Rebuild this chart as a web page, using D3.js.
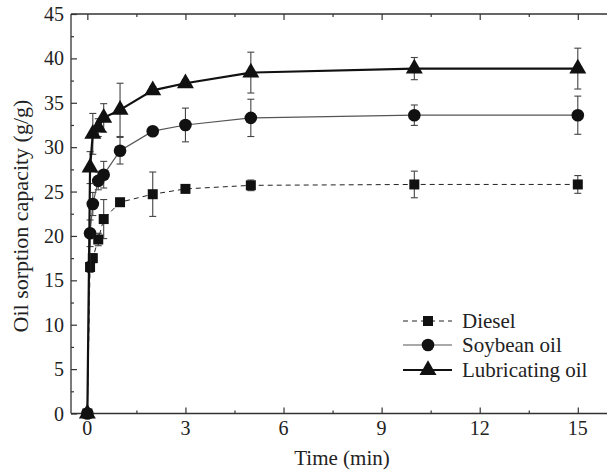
<!DOCTYPE html>
<html>
<head>
<meta charset="utf-8">
<script src="https://cdn.jsdelivr.net/npm/d3@7"></script>
<style>
  body { margin: 0; background: #fff; }
  svg text { font-family: "Liberation Serif", "Times New Roman", serif; fill: #222; }
</style>
</head>
<body>
<div id="chart"></div>
<script>
// time points (min)
var times = [0, 0.083, 0.167, 0.333, 0.5, 1, 2, 3, 5, 10, 15];

var diesel     = [0, 16.5, 17.5, 19.6, 21.9, 23.8, 24.7, 25.3, 25.7, 25.8, 25.8];
var dieselErr  = [0, 0.6, 0.5, 0.7, 2.2, 0.3, 2.5, 0.3, 0.6, 1.5, 1.0];
var soybean    = [0, 20.3, 23.6, 26.2, 26.9, 29.6, 31.8, 32.5, 33.3, 33.6, 33.6];
var soybeanErr = [0, 1.5, 1.3, 1.0, 1.5, 1.5, 0.3, 1.9, 2.1, 1.15, 2.15];
var lube       = [0, 27.7, 31.5, 32.2, 33.3, 34.2, 36.4, 37.2, 38.4, 38.85, 38.85];
var lubeErr    = [0, 1.8, 2.3, 1.0, 1.6, 3.0, 0.4, 0.4, 2.3, 1.25, 2.3];

var xTicks = [0, 3, 6, 9, 12, 15];
var yTicks = [0, 5, 10, 15, 20, 25, 30, 35, 40, 45];

var width = 607, height = 471;

var svg = d3.select("#chart").append("svg")
    .attr("width", width)
    .attr("height", height);

var x = d3.scaleLinear().domain([-0.5, 16]).range([71, 610.5]);
var y = d3.scaleLinear().domain([0, 45]).range([413.5, 14]);

// frame lines (left, top, bottom) - right side is cropped
var frame = svg.append("g").attr("stroke", "#333").attr("stroke-width", 1.3);
frame.append("line").attr("x1", 71).attr("x2", 71).attr("y1", y(45)).attr("y2", y(0));
frame.append("line").attr("x1", 71).attr("x2", width).attr("y1", y(45)).attr("y2", y(45));
frame.append("line").attr("x1", 71).attr("x2", width).attr("y1", y(0)).attr("y2", y(0));

// ticks, all pointing inwards
var xMinor = d3.range(1.5, 16, 3);
var yMinor = d3.range(2.5, 45, 5);

function noDomain(g) { g.select(".domain").remove(); }

svg.append("g").attr("transform", "translate(0," + y(0) + ")")
    .call(d3.axisTop(x).tickValues(xTicks).tickSize(6).tickFormat("")).call(noDomain);
svg.append("g").attr("transform", "translate(0," + y(0) + ")")
    .call(d3.axisTop(x).tickValues(xMinor).tickSize(3).tickFormat("")).call(noDomain);
svg.append("g").attr("transform", "translate(0," + y(45) + ")")
    .call(d3.axisBottom(x).tickValues(xTicks).tickSize(6).tickFormat("")).call(noDomain);
svg.append("g").attr("transform", "translate(0," + y(45) + ")")
    .call(d3.axisBottom(x).tickValues(xMinor).tickSize(3).tickFormat("")).call(noDomain);
svg.append("g").attr("transform", "translate(71,0)")
    .call(d3.axisRight(y).tickValues(yTicks).tickSize(6).tickFormat("")).call(noDomain);
svg.append("g").attr("transform", "translate(71,0)")
    .call(d3.axisRight(y).tickValues(yMinor).tickSize(3).tickFormat("")).call(noDomain);
svg.selectAll(".tick line").attr("stroke", "#333").attr("stroke-width", 1.2);

// tick labels
svg.selectAll(".xlab").data(xTicks).enter().append("text")
    .attr("x", function(d) { return x(d); })
    .attr("y", 435)
    .attr("text-anchor", "middle")
    .style("font-size", "20px")
    .text(function(d) { return d; });
svg.selectAll(".ylab").data(yTicks).enter().append("text")
    .attr("x", 64)
    .attr("y", function(d) { return y(d) + 7; })
    .attr("text-anchor", "end")
    .style("font-size", "20px")
    .text(function(d) { return d; });

// axis titles
svg.append("text")
    .attr("x", 342).attr("y", 465)
    .attr("text-anchor", "middle")
    .style("font-size", "21px")
    .text("Time (min)");
svg.append("text")
    .attr("transform", "translate(28,216) rotate(-90)")
    .attr("text-anchor", "middle")
    .style("font-size", "22px")
    .text("Oil sorption capacity (g/g)");

var series = [
  { name: "Diesel", vals: diesel, err: dieselErr, shape: d3.symbolSquare, size: 100, stroke: "#222", width: 1, dash: "5,4" },
  { name: "Soybean oil", vals: soybean, err: soybeanErr, shape: d3.symbolCircle, size: 125, stroke: "#555", width: 1.2, dash: null },
  { name: "Lubricating oil", vals: lube, err: lubeErr, shape: d3.symbolTriangle, size: 125, stroke: "#111", width: 2.2, dash: null }
];

var line = d3.line()
    .x(function(d) { return x(d[0]); })
    .y(function(d) { return y(d[1]); });

series.forEach(function(s) {
  var pts = times.map(function(t, i) { return [t, s.vals[i], s.err[i]]; });

  // error bars
  var eb = svg.append("g").attr("stroke", "#444").attr("stroke-width", 1.1);
  pts.forEach(function(p) {
    if (p[2] <= 0) return;
    var cx = x(p[0]), top = y(p[1] + p[2]), bot = y(p[1] - p[2]);
    eb.append("line").attr("x1", cx).attr("x2", cx).attr("y1", top).attr("y2", bot);
    eb.append("line").attr("x1", cx - 3.5).attr("x2", cx + 3.5).attr("y1", top).attr("y2", top);
    eb.append("line").attr("x1", cx - 3.5).attr("x2", cx + 3.5).attr("y1", bot).attr("y2", bot);
  });

  svg.append("path")
      .datum(pts)
      .attr("d", line)
      .attr("fill", "none")
      .attr("stroke", s.stroke)
      .attr("stroke-width", s.width)
      .attr("stroke-dasharray", s.dash);

  svg.selectAll(null).data(pts).enter().append("path")
      .attr("d", d3.symbol().type(s.shape).size(s.size))
      .attr("transform", function(d) { return "translate(" + x(d[0]) + "," + y(d[1]) + ")"; })
      .attr("fill", "#111");
});

// legend
var legY = [321, 345, 370];
series.forEach(function(s, i) {
  var g = svg.append("g");
  g.append("line")
      .attr("x1", 403).attr("x2", 452)
      .attr("y1", legY[i]).attr("y2", legY[i])
      .attr("stroke", s.stroke)
      .attr("stroke-width", s.width)
      .attr("stroke-dasharray", s.dash);
  g.append("path")
      .attr("d", d3.symbol().type(s.shape).size(s.size))
      .attr("transform", "translate(428," + legY[i] + ")")
      .attr("fill", "#111");
  g.append("text")
      .attr("x", 462).attr("y", legY[i] + 7)
      .style("font-size", "21px")
      .text(s.name);
});
</script>
</body>
</html>
